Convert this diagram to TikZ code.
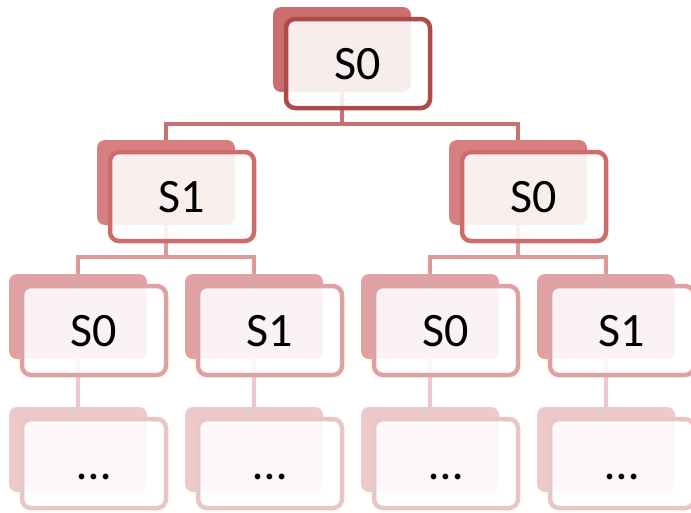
\documentclass[tikz,border=0pt]{standalone}
\usepackage{fontspec}
\setmainfont{Carlito}
\usetikzlibrary{backgrounds}

\definecolor{backA}{RGB}{205,110,110}
\definecolor{backB}{RGB}{214,128,128}
\definecolor{backC}{RGB}{224,162,162}
\definecolor{backD}{RGB}{237,202,202}
\definecolor{edgeA}{RGB}{176,74,74}
\definecolor{edgeB}{RGB}{204,108,108}
\definecolor{edgeC}{RGB}{221,163,163}
\definecolor{edgeD}{RGB}{233,198,198}
\definecolor{lineA}{RGB}{205,112,112}
\definecolor{lineB}{RGB}{218,155,155}
\definecolor{lineC}{RGB}{236,200,204}

\begin{document}
\begin{tikzpicture}[
    x=1pt, y=-1pt,
    every node/.style={font=\fontsize{48}{48}\selectfont},
    back/.style={fill=#1, rounded corners=8pt, minimum width=138pt, minimum height=85pt, inner sep=0pt},
    front/.style={draw=#1, line width=4.5pt, rounded corners=9pt, fill=white, fill opacity=0.88, text opacity=1,
        minimum width=144pt, minimum height=89pt, inner sep=0pt, text height=32pt, text depth=0pt},
    link/.style={draw=#1, line width=4.5pt}
]
\useasboundingbox (0,0) rectangle (691,512);

% level 1
\node[back=backA] (rootbg) at (342,49.5) {};
\node[front=edgeA] (root) at ([shift={(16,14)}]rootbg.center) {S0};

% level 2
\node[back=backB] (a1bg) at (166,182.5) {};
\node[front=edgeB] (a1) at ([shift={(16,14)}]a1bg.center) {S1};
\node[back=backB] (a2bg) at (518,182.5) {};
\node[front=edgeB] (a2) at ([shift={(16,14)}]a2bg.center) {S0};

% level 3
\node[back=backC] (b1bg) at (78,316.5) {};
\node[front=edgeC] (b1) at ([shift={(16,14)}]b1bg.center) {S0};
\node[back=backC] (b2bg) at (254,316.5) {};
\node[front=edgeC] (b2) at ([shift={(16,14)}]b2bg.center) {S1};
\node[back=backC] (b3bg) at (430,316.5) {};
\node[front=edgeC] (b3) at ([shift={(16,14)}]b3bg.center) {S0};
\node[back=backC] (b4bg) at (606,316.5) {};
\node[front=edgeC] (b4) at ([shift={(16,14)}]b4bg.center) {S1};

% level 4
\node[back=backD] (c1bg) at (78,449.5) {};
\node[front=edgeD] (c1) at ([shift={(16,14)}]c1bg.center) {…};
\node[back=backD] (c2bg) at (254,449.5) {};
\node[front=edgeD] (c2) at ([shift={(16,14)}]c2bg.center) {…};
\node[back=backD] (c3bg) at (430,449.5) {};
\node[front=edgeD] (c3) at ([shift={(16,14)}]c3bg.center) {…};
\node[back=backD] (c4bg) at (606,449.5) {};
\node[front=edgeD] (c4) at ([shift={(16,14)}]c4bg.center) {…};

% tree lines, behind the boxes
\begin{scope}[on background layer]
\coordinate (busA) at (0,124);
\coordinate (busB) at (0,257);
\draw[link=lineA] (rootbg.center) -- (rootbg.center |- busA);
\draw[link=lineA] (a1bg.north) |- (a2bg.north |- busA) -- (a2bg.north);
\draw[link=lineB] (a1bg.center) -- (a1bg.center |- busB);
\draw[link=lineB] (b1bg.north) |- (b2bg.north |- busB) -- (b2bg.north);
\draw[link=lineB] (a2bg.center) -- (a2bg.center |- busB);
\draw[link=lineB] (b3bg.north) |- (b4bg.north |- busB) -- (b4bg.north);
\draw[link=lineC] (b1bg.center) -- (c1bg.north);
\draw[link=lineC] (b2bg.center) -- (c2bg.north);
\draw[link=lineC] (b3bg.center) -- (c3bg.north);
\draw[link=lineC] (b4bg.center) -- (c4bg.north);
\end{scope}
\end{tikzpicture}
\end{document}
